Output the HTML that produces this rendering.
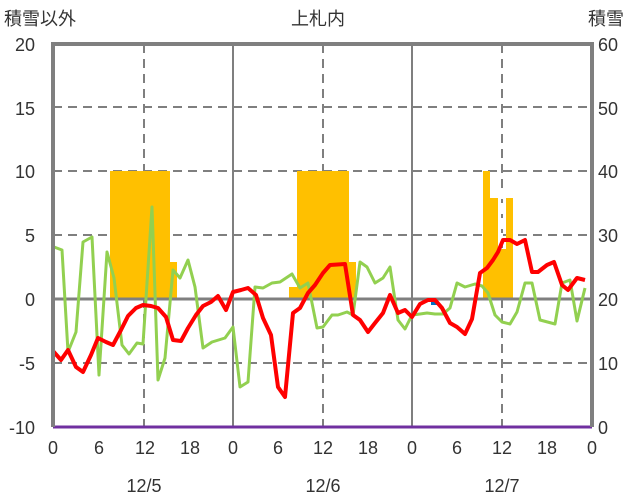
<!DOCTYPE html><html><head><style>body{margin:0;background:#fff}svg{display:block}text{font-family:"Liberation Sans","Noto Sans CJK JP",sans-serif;font-size:18px;fill:#333}</style></head><body>
<svg width="636" height="501" viewBox="0 0 636 501">
<g stroke="#7f7f7f" stroke-width="2" stroke-dasharray="9,6">
<line x1="53" y1="107" x2="592" y2="107"/><line x1="53" y1="171" x2="592" y2="171"/><line x1="53" y1="235" x2="592" y2="235"/><line x1="53" y1="363" x2="592" y2="363"/>
<line x1="144" y1="44" x2="144" y2="427"/><line x1="323" y1="44" x2="323" y2="427"/><line x1="502" y1="44" x2="502" y2="427"/>
</g>
<g fill="#ffc000">
<rect x="110" y="171" width="60" height="128"/><rect x="170" y="262" width="7" height="37"/>
<rect x="289" y="287" width="8" height="12"/><rect x="297" y="171" width="52" height="128"/><rect x="349" y="262" width="7" height="37"/>
<rect x="483" y="171" width="7" height="128"/><rect x="490" y="198" width="8" height="101"/><rect x="498" y="249" width="8" height="50"/><rect x="506" y="198" width="7" height="101"/>
</g>
<line x1="502" y1="190" x2="502" y2="248" stroke="#fff" stroke-width="2" stroke-dasharray="9,6"/>
<rect x="431" y="300" width="6" height="5" fill="#0070c0"/>
<g stroke="#7f7f7f" stroke-width="2"><line x1="233" y1="44" x2="233" y2="427"/><line x1="412" y1="44" x2="412" y2="427"/></g>
<line x1="53" y1="299" x2="592" y2="299" stroke="#7f7f7f" stroke-width="3"/>
<polyline fill="none" stroke="#92d050" stroke-width="3" stroke-linejoin="round" points="54,247 62,250 68,352 76,332 83,242 92,237 99,375 107,252 114,278 122,345 129,354 137,343 143,344 152,207 158,380 165,358 173,270 180,278 188,260 195,287 203,348 212,342 225,338 233,327 240,387 248,382 255,287 263,288 272,283 280,282 292,274 300,288 308,283 317,328 323,327 332,315 338,315 347,312 353,315 360,262 367,267 375,283 383,278 390,267 398,320 405,329 412,315 420,314 427,313 435,314 443,314 450,308 457,283 465,287 475,284 482,286 488,293 495,315 502,322 510,324 517,312 525,283 532,283 540,320 555,324 562,283 570,280 577,321 585,288"/>
<polyline fill="none" stroke="#ff0000" stroke-width="4" stroke-linejoin="round" points="53,351 61,360 68,350 76,367 83,372 91,355 98,338 106,342 113,345 121,330 128,316 136,308 143,305 151,306 158,308 166,317 173,340 181,341 188,328 196,315 203,306 211,302 218,296 226,310 233,292 241,290 248,288 256,295 263,318 271,335 278,387 285,397 293,313 300,308 308,293 315,285 323,273 330,265 345,264 353,315 360,320 368,332 375,323 383,313 390,295 398,313 405,310 412,317 420,304 428,300 435,300 442,308 450,323 457,327 465,334 472,319 480,273 487,268 493,260 498,252 503,240 510,240 517,244 525,240 532,272 538,272 547,265 554,262 562,285 568,290 577,278 585,280"/>
<line x1="53" y1="427" x2="592" y2="427" stroke="#7030a0" stroke-width="3"/>
<g stroke="#7f7f7f" stroke-width="4" fill="none"><polyline points="53,427 53,44 592,44 592,427"/></g>
<g text-anchor="end"><text x="35" y="51">20</text><text x="35" y="115">15</text><text x="35" y="178">10</text><text x="35" y="242">5</text><text x="35" y="306">0</text><text x="35" y="370">-5</text><text x="35" y="434">-10</text></g>
<g text-anchor="start"><text x="598" y="51">60</text><text x="598" y="115">50</text><text x="598" y="178">40</text><text x="598" y="242">30</text><text x="598" y="306">20</text><text x="598" y="370">10</text><text x="598" y="434">0</text></g>
<g text-anchor="middle"><text x="53" y="454">0</text><text x="99" y="454">6</text><text x="145" y="454">12</text><text x="190" y="454">18</text><text x="233" y="454">0</text><text x="278" y="454">6</text><text x="323" y="454">12</text><text x="368" y="454">18</text><text x="412" y="454">0</text><text x="457" y="454">6</text><text x="502" y="454">12</text><text x="547" y="454">18</text><text x="592" y="454">0</text>
<text x="144" y="492">12/5</text><text x="323" y="492">12/6</text><text x="502" y="492">12/7</text>
<text x="318" y="25">上札内</text></g>
<text x="4" y="25">積雪以外</text><text x="588" y="25">積雪</text>
</svg></body></html>
